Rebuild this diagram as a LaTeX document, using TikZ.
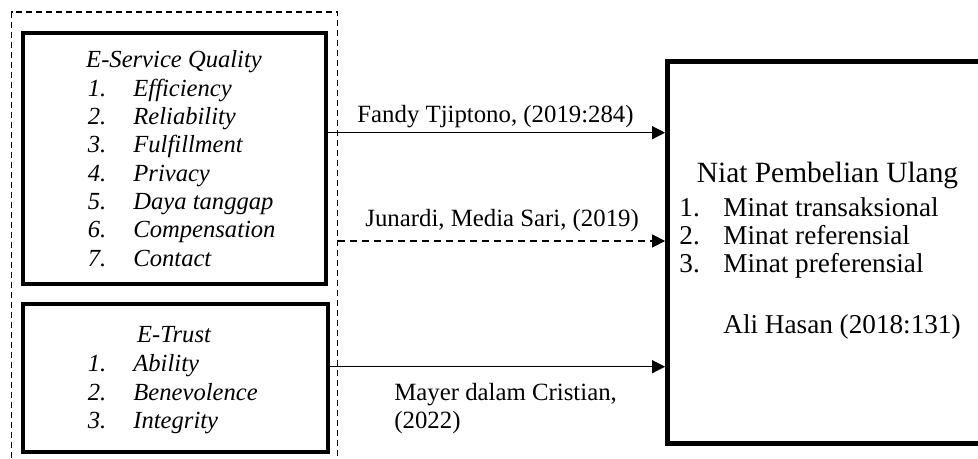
\documentclass[tikz,border=0pt]{standalone}
\usepackage{fontspec}
\setmainfont{Liberation Serif}
\usetikzlibrary{positioning,arrows.meta}

\begin{document}
\begin{tikzpicture}[
      x=0.5pt,y=-0.5pt,
      trans/.style={-{Triangle[length=6.5pt,width=6.5pt]},line width=0.6pt},
      dtrans/.style={trans,dash pattern=on 3.5pt off 2.5pt},
      var/.style={draw,line width=2pt,inner sep=0pt},
      grp/.style={draw,line width=0.6pt,dash pattern=on 3pt off 2pt,inner sep=0pt},
      lbl/.style={anchor=base west,inner sep=0pt},
      ttl/.style={anchor=base,inner sep=0pt},
      ]
      \fontsize{12.3pt}{14pt}\selectfont
      \useasboundingbox (0,0) rectangle (978,459);
      \clip (0,0) rectangle (978,459);

      % variabel X
      \node (grp) [grp,minimum width=163.1pt,minimum height=234pt] at (174.6,246) {};
      \node (esq) [var,minimum width=151.25pt,minimum height=125.75pt] at (174.25,158.75) {};
      \node (et) [var,minimum width=152.25pt,minimum height=73.85pt] at (175.25,378.2) {};

      % variabel Y (kanan terpotong)
      \node (npu) [inner sep=0pt,outer sep=1.2pt,minimum width=175pt,minimum height=190.9pt] at (842.5,252.6) {};
      \draw [line width=2.4pt] (1030,61.7) -| (667.5,443.5) -- (1030,443.5);

      % isi kotak
      \node (esqT) [ttl] at (174,68) {\itshape E-Service Quality};
      \foreach \t [count=\i] in {Efficiency,Reliability,Fulfillment,Privacy,Daya tanggap,Compensation,Contact} {
        \node (esq-n\i) [lbl] at (87.5,{68+28.3*\i}) {\itshape\i.};
        \node (esq-i\i) [lbl] at (133,{68+28.3*\i}) {\itshape\t};
      }
      \node (etT) [ttl] at (174,343) {\itshape E-Trust};
      \foreach \t [count=\i] in {Ability,Benevolence,Integrity} {
        \node (et-n\i) [lbl] at (87.5,{343+28.5*\i}) {\itshape\i.};
        \node (et-i\i) [lbl] at (133,{343+28.5*\i}) {\itshape\t};
      }
      \node (npuT) [ttl,font=\fontsize{14.7pt}{16pt}\selectfont] at (827.5,183) {Niat Pembelian Ulang};
      \foreach \t [count=\i] in {Minat transaksional,Minat referensial,Minat preferensial} {
        \node (npu-n\i) [lbl,font=\fontsize{13.6pt}{14pt}\selectfont] at (679,{189+28*\i}) {\i.};
        \node (npu-i\i) [lbl,font=\fontsize{13.6pt}{14pt}\selectfont] at (723,{189+28*\i}) {\t};
      }
      \node (src) [lbl,font=\fontsize{13.6pt}{14pt}\selectfont] at (723,333) {Ali Hasan (2018:131)};

      % panah
      \coordinate (a1) at (0,132.7);
      \coordinate (a2) at (0,241);
      \coordinate (a3) at (0,366.7);
      \draw [trans] (esq.east |- a1) to (npu.west |- a1);
      \draw [dtrans] (grp.east |- a2) to (npu.west |- a2);
      \draw [trans] (et.east |- a3) to (npu.west |- a3);
      \node (l1) [lbl,font=\fontsize{12.4pt}{14pt}\selectfont] at (357,123) {Fandy Tjiptono, (2019:284)};
      \node (l2) [lbl,font=\fontsize{12.4pt}{14pt}\selectfont] at (365,227) {Junardi, Media Sari, (2019)};
      \node (l3) [lbl,font=\fontsize{12.4pt}{14pt}\selectfont] at (394,400) {Mayer dalam Cristian,};
      \node (l3b) [lbl,font=\fontsize{12.4pt}{14pt}\selectfont] at (394,428) {(2022)};
\end{tikzpicture}
\end{document}
